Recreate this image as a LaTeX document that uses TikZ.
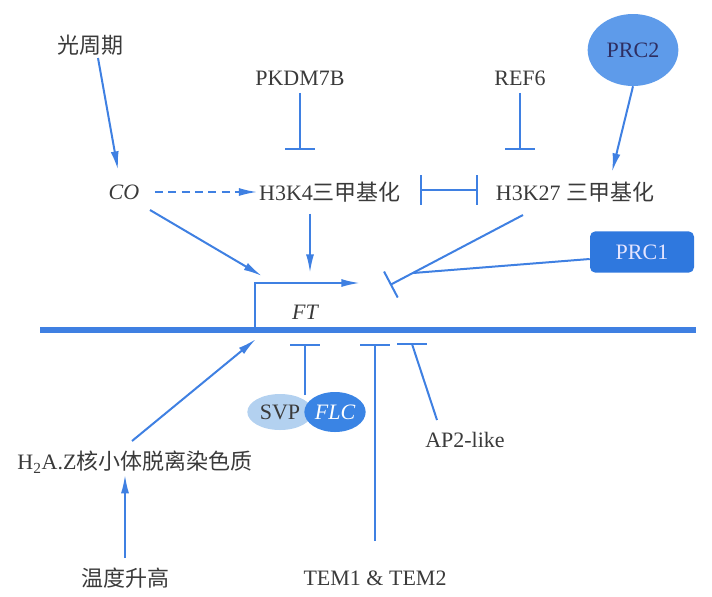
\documentclass[tikz,border=0pt]{standalone}
\usepackage{fontspec}
\setmainfont{Liberation Serif}
\newfontfamily\cjk{Noto Sans CJK SC}
\usetikzlibrary{arrows.meta,shapes.geometric}
\definecolor{ln}{HTML}{3F80E2}
\definecolor{tx}{HTML}{3A3A3A}
\definecolor{prctwo}{HTML}{5E9BEA}
\definecolor{prcone}{HTML}{2F78DE}
\definecolor{flcc}{HTML}{3A84E4}
\definecolor{svpc}{HTML}{B3D1F0}
\begin{document}
\begin{tikzpicture}[x=0.75pt,y=-0.75pt,
  txt/.style={text=tx, font=\fontsize{16.5}{19}\selectfont, inner sep=1pt},
  arr/.style={draw=ln, line width=1.5pt, -{Latex[length=14pt,width=6pt]}},
  inh/.style={draw=ln, line width=1.5pt, -{Bar[width=22pt]}},
  dinh/.style={draw=ln, line width=1.5pt, {Bar[width=22pt]}-{Bar[width=22pt]}},
  plain/.style={draw=ln, line width=1.5pt},
]
\useasboundingbox (0,0) rectangle (712,596);

% text nodes
\node[txt] (guang) at (90,45) {\cjk 光周期};
\node[txt] (CO) at (124,192) {\itshape CO};
\node[txt] (pkdm) at (300,78) {PKDM7B};
\node[txt] (ref) at (520,78) {REF6};
\node[txt] (k4) at (330,192) {H3K4{\cjk 三甲基化}};
\node[txt] (k27) at (575,192) {H3K27 {\cjk 三甲基化}};
\node[txt, ellipse, fill=prctwo, minimum width=68pt, minimum height=54pt, text=tx!80!blue] (prc2) at (633,50) {PRC2};
\node[txt, rounded corners=4pt, fill=prcone, minimum width=78pt, minimum height=31pt, text=white!90!blue] (prc1) at (642,252) {PRC1};
\node[txt] (FT) at (305,312) {\itshape FT};
\node[txt, ellipse, fill=svpc, minimum width=49pt, minimum height=27pt] (svp) at (280,412) {SVP};
\node[txt, ellipse, fill=flcc, minimum width=46pt, minimum height=30pt, text=white] (flc) at (335,412) {\itshape FLC};
\node[txt] (ap2) at (465,440) {AP2-like};
\node[txt] (h2az) at (135,462) {H\textsubscript{2}A.Z{\cjk 核小体脱离染色质}};
\node[txt] (temp) at (125,578) {\cjk 温度升高};
\node[txt] (tem) at (375,578) {TEM1 \& TEM2};

% coordinates
\coordinate (dnaL) at (40,330);
\coordinate (dnaR) at (696,330);
\coordinate (prom) at (255,330);
\coordinate (promtop) at (255,283);
\coordinate (promtip) at (360,283);
\coordinate (ftbar) at (390,285);
\coordinate (join) at (413,273);
\coordinate (bsvp) at (305,344);
\coordinate (btem) at (375,344);
\coordinate (bap) at (412,344);
\coordinate (ftin) at (262,276);
\coordinate (ftin2) at (256,339);

% DNA
\draw[ln, line width=4.5pt] (dnaL) -- (dnaR);
% promoter
\draw[arr] (prom) -- (promtop) -- (promtip);

% arrows
\draw[arr] (98,58) -- (118,170);
\draw[arr, dashed, dash pattern=on 6pt off 4pt] (CO.east) ++(14,0) -- (k4.west);
\draw[arr] (150,210) -- (ftin);
\draw[arr] (k4.south) ++(-20,10) -- (310,273);
\draw[arr] (prc2.south) -- (612,172);
\draw[arr] (132,441) -- (ftin2);
\draw[arr] (temp.north) ++(0,-8) -- (h2az.south -| temp.north);

% inhibitions
\draw[inh] (pkdm.south) ++(0,6) -- (300,150);
\draw[inh] (ref.south) ++(0,6) -- (520,150);
\draw[dinh] (420,190) -- (478,190);
\draw[inh] (523,215) -- (ftbar);
\draw[plain] (prc1.west) ++(0,7) -- (join);
\draw[inh] (305,395) -- (bsvp);
\draw[inh] (375,541) -- (btem);
\draw[plain] (437,420) -- (bap);
\draw[plain] ([xshift=-11pt]bap) -- ([xshift=11pt]bap);
\end{tikzpicture}
\end{document}
